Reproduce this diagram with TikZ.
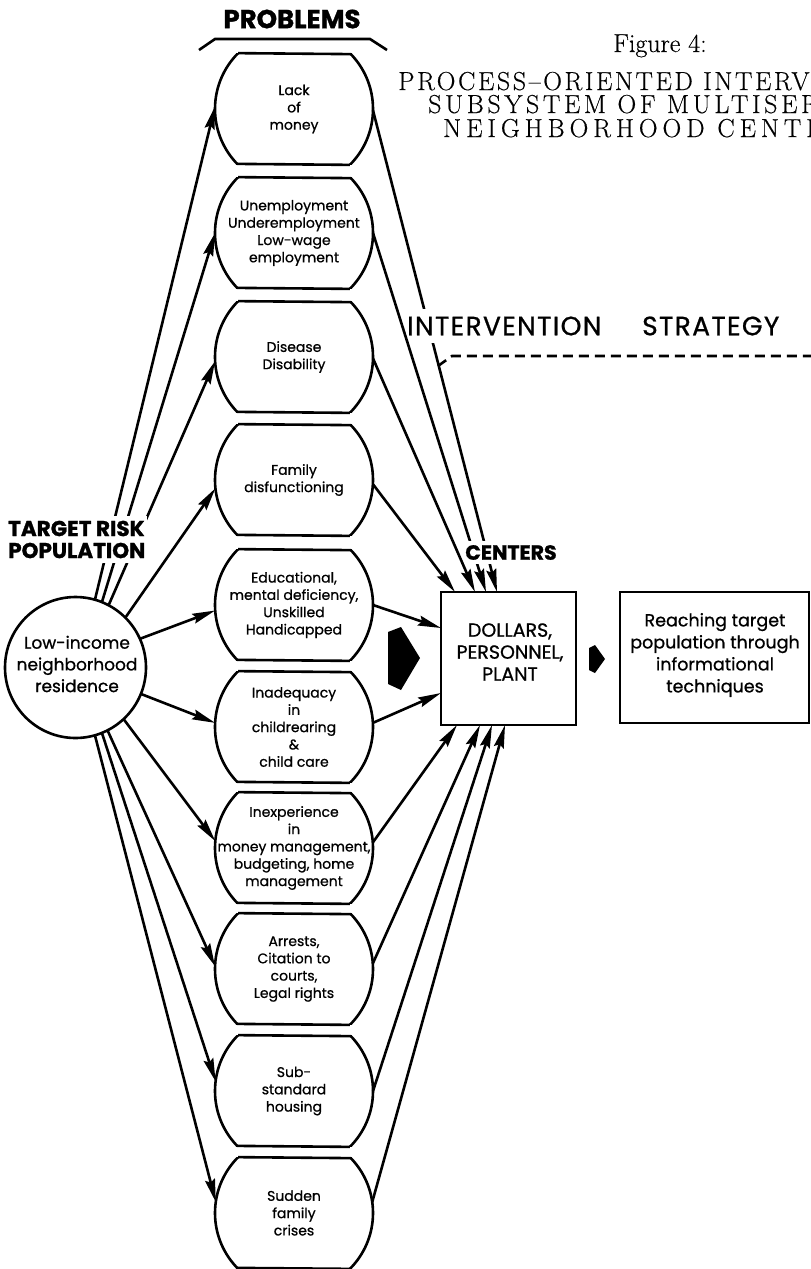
\documentclass[tikz,border=0pt]{standalone}
\usepackage{fontspec}
\newfontfamily\geo{Poppins}[FakeBold=0.8,BoldFeatures={FakeBold=1.2}]
\newfontfamily\geols{Poppins}[FakeBold=0.8,LetterSpace=5]
\newfontfamily\figfont{Latin Modern Roman}[FakeBold=0.4]
\newfontfamily\titlefont{Latin Modern Roman}[LetterSpace=10,FakeBold=0.4]
\newfontfamily\titlefontb{Latin Modern Roman}[LetterSpace=14,FakeBold=0.4]
\newfontfamily\titlefontc{Latin Modern Roman}[LetterSpace=19,FakeBold=0.4]
\usetikzlibrary{arrows.meta}
\newcommand\probnode[3]{%
  \begin{scope}
    \clip (200,#2-55.5) rectangle (390,#2+55.5);
    \node[pcirc] (#1) at (294,#2) {};
  \end{scope}
  \draw[ln] (#1.135.37) -- (#1.44.63) (#1.224.63) -- (#1.315.37);
  \node[ptext] (#1t) at (294,#2) {#3};
}
\begin{document}
\begin{tikzpicture}[x=1pt,y=-1pt,
  ln/.style={line width=2.6pt},
  arr/.style={ln,-{Stealth[length=23pt,width=10pt,inset=3pt]}},
  pcirc/.style={circle,draw,ln,minimum size=158pt,inner sep=0pt,outer sep=0pt},
  ptext/.style={font=\geo\fontsize{14}{17.3}\selectfont,align=center,inner sep=0pt},
  bigtext/.style={font=\geo\fontsize{17}{21.7}\selectfont,align=center,inner sep=0pt},
  boxtext/.style={font=\geo\fontsize{19}{22}\selectfont,align=center,inner sep=0pt},
  reachtext/.style={font=\geo\fontsize{17.5}{22}\selectfont,align=center,inner sep=0pt},
  boldlab/.style={font=\geo\bfseries\fontsize{21.5}{22}\selectfont,align=left},
  stratlab/.style={font=\geols\fontsize{26.5}{28}\selectfont,inner xsep=0pt,inner ysep=8pt},
  titletext/.style={font=\fontsize{26}{30}\selectfont,inner sep=0pt},
  arrowshape/.style={fill=black}
]
\useasboundingbox (0,0) rectangle (811,1269);

% title
\begin{scope}
  \clip (0,0) rectangle (811,1269);
  \node[titletext,anchor=base] (fig) at (660,52) {\figfont Figure 4:};
  \node[titletext,anchor=base west] (t1) at (398,90) {\titlefont PROCESS–ORIENTED INTERVENTION};
  \node[titletext,anchor=base west] (t2) at (428,113) {\titlefontb SUBSYSTEM OF MULTISERVICE};
  \node[titletext,anchor=base west] (t3) at (443,137) {\titlefontc NEIGHBORHOOD CENTERS};
\end{scope}

% PROBLEMS header
\node[font=\geo\bfseries\fontsize{26}{28}\selectfont,inner sep=0pt] (probl) at (292,19) {PROBLEMS};
\draw[ln] (199,50) -- (215,39) -- (370,39) -- (387,50);

% problem nodes
\probnode{p1}{109}{Lack\\of\\money}
\probnode{p2}{233}{Unemployment\\Underemployment\\Low-wage\\employment}
\probnode{p3}{357}{Disease\\Disability}
\probnode{p4}{480}{Family\\disfunctioning}
\probnode{p5}{605}{Educational,\\mental deficiency,\\Unskilled\\Handicapped}
\probnode{p6}{727}{Inadequacy\\in\\childrearing\\\&\\child care}
\probnode{p7}{848}{Inexperience\\in\\money management,\\budgeting, home\\management}
\probnode{p8}{969}{Arrests,\\Citation to\\courts,\\Legal rights}
\probnode{p9}{1091}{Sub-\\standard\\housing}
\probnode{p10}{1213}{Sudden\\family\\crises}

% residence circle
\node[circle,draw,ln,minimum size=141pt,inner sep=0pt,outer sep=0pt] (res) at (75.5,667.5) {};
\node[bigtext] (rest) at (77,664) {Low-income\\neighborhood\\residence};

% boxes
\node[draw,ln,minimum width=135pt,minimum height=133pt,inner sep=0pt,outer sep=0pt] (dpp) at (508.5,658.5) {};
\node[boxtext] (dppt) at (510,652) {DOLLARS,\\PERSONNEL,\\PLANT};
\node[draw,ln,minimum width=189pt,minimum height=131pt,inner sep=0pt,outer sep=0pt] (reach) at (714.5,657.5) {};
\node[reachtext] (reacht) at (715,655) {Reaching target\\population through\\informational\\techniques};

% black arrow shapes
\fill[arrowshape] (388,632) -- (401,627) -- (420,658) -- (401,690) -- (388,684) -- cycle;
\fill[arrowshape] (589,648) -- (595,645) -- (605,659) -- (595,673) -- (589,670) -- cycle;

% left connectors
\draw[arr] (res.74) -- (p1.178);
\draw[arr] (res.68) -- (p2.180);
\draw[arr] (res.62.5) -- (p3.183);
\draw[arr] (res.45) -- (p4.186);
\draw[arr] (res.24) -- (p5.184);
\draw[arr] (res.338) -- (p6.177);
\draw[arr] (res.313) -- (p7.175);
\draw[arr] (res.297.5) -- (p8.178);
\draw[arr] (res.292) -- (p9.173);
\draw[arr] (res.286) -- (p10.172);

\node[boldlab,fill=white,inner xsep=2pt,inner ysep=5pt,anchor=west] (trp) at (6,539.5) {TARGET RISK\\POPULATION};

% right connectors (upper)
\draw[arr] (p1.359) -- ([xshift=56pt]dpp.north west);
\coordinate (dashend) at (811,356);
\draw[ln,dash pattern=on 10pt off 6pt] (438,366) -- (452,356) -- (dashend);
\node[stratlab,fill=white,anchor=west] (intv) at (407,326) {INTERVENTION};
\node[stratlab,anchor=west] (strat) at (642,326) {STRATEGY};
\draw[arr] (p2.0) -- ([xshift=45pt]dpp.north west);
\node[font=\geo\bfseries\fontsize{20.5}{22}\selectfont,fill=white,inner xsep=0pt,inner ysep=4pt] (cent) at (511,552.5) {CENTERS};
\draw[arr] (p3.359) -- ([xshift=34pt]dpp.north west);
\draw[arr] (p4.357.5) -- ([xshift=14pt]dpp.north west);
\draw[arr] (p5.0) -- ([yshift=-36pt]dpp.north west);
\draw[arr] (p6.3) -- ([yshift=-101pt]dpp.north west);
\draw[arr] (p7.4) -- ([xshift=16pt]dpp.south west);
\draw[arr] (p8.4) -- ([xshift=39pt]dpp.south west);
\draw[arr] (p9.0) -- ([xshift=51pt]dpp.south west);
\draw[arr] (p10.8) -- ([xshift=64pt]dpp.south west);
\end{tikzpicture}
\end{document}
